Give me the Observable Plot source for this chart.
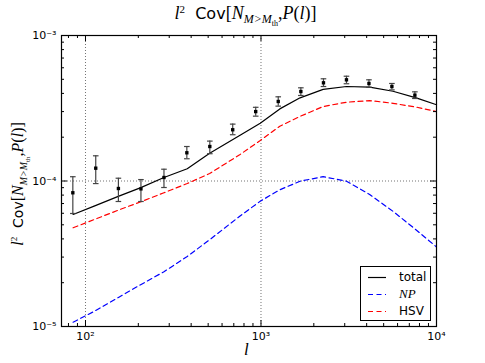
<!DOCTYPE html>
<html><head><meta charset="utf-8">
<script src="https://cdn.jsdelivr.net/npm/d3@7"></script>
<script src="https://cdn.jsdelivr.net/npm/@observablehq/plot@0.6"></script>
<style>
body{margin:0;background:#fff;font-family:"DejaVu Sans",sans-serif;color:#000;}
#wrap{position:relative;width:485px;height:363px;overflow:hidden;}
#wrap svg{position:absolute;left:0;top:0;}
.m{font-family:"Liberation Serif",serif;font-style:italic;}
.r{font-family:"Liberation Serif",serif;font-style:normal;}
.lab{position:absolute;white-space:nowrap;}
sub,sup{line-height:0;}
#legend{position:absolute;left:360px;top:266px;width:69px;height:53px;border:1px solid #000;background:#fff;font-size:12px;}
#legend .row{position:absolute;left:0;height:16px;line-height:16px;}
#legend svg{position:absolute;left:7px;top:7px;}
#legend .t{position:absolute;left:38px;top:0;}
</style></head><body>
<div id="wrap">
  <div class="lab" id="title" style="left:0;width:491px;text-align:center;top:3px;font-size:16px;">
    <span class="m" style="font-size:18px">l</span><sup class="r" style="font-size:11px">2</sup>&nbsp; Cov<span class="r" style="font-size:18px">[</span><span class="m" style="font-size:18px">N</span><sub class="m" style="font-size:12px">M&gt;M<sub class="r" style="font-size:8px">th</sub></sub><span class="r" style="font-size:18px">,</span><span class="m" style="font-size:18px">P</span><span class="r" style="font-size:18px">(</span><span class="m" style="font-size:18px">l</span><span class="r" style="font-size:18px">)]</span>
  </div>
  <div class="lab" id="ylab" style="left:18px;top:184px;font-size:14px;transform:translate(-50%,-50%) rotate(-90deg);">
    <span class="m" style="font-size:16px">l</span><sup class="r" style="font-size:9px">2</sup>&nbsp; Cov<span class="r" style="font-size:16px">[</span><span class="m" style="font-size:16px">N</span><sub class="m" style="font-size:10px">M&gt;M<sub class="r" style="font-size:7px">th</sub></sub><span class="r" style="font-size:16px">,</span><span class="m" style="font-size:16px">P</span><span class="r" style="font-size:16px">(</span><span class="m" style="font-size:16px">l</span><span class="r" style="font-size:16px">)]</span>
  </div>
  <div class="lab m" id="xlab" style="left:244px;top:340px;font-size:17px;">l</div>
  <div id="legend">
    <div class="row" style="top:2px;width:69px"><svg width="20" height="3"><line x1="0" x2="18" y1="1.5" y2="1.5" stroke="#000" stroke-width="1.2"/></svg><span class="t">total</span></div>
    <div class="row" style="top:19px;width:69px"><svg width="20" height="3"><line x1="0" x2="18" y1="1.5" y2="1.5" stroke="#0000ff" stroke-width="1.2" stroke-dasharray="5,3.5"/></svg><span class="t m" style="font-size:13px">NP</span></div>
    <div class="row" style="top:36px;width:69px"><svg width="20" height="3"><line x1="0" x2="18" y1="1.5" y2="1.5" stroke="#ff0000" stroke-width="1.2" stroke-dasharray="5,3.5"/></svg><span class="t">HSV</span></div>
  </div>
</div>
<script>
// multipole grid for the model curves
const ell   = [85, 112, 155, 205, 280, 380, 510, 760, 990, 1280, 1670, 2260, 3070, 4160, 5650, 7660, 10000];
const total = [5.89e-5, 6.72e-5, 7.87e-5, 8.97e-5, 1.057e-4, 1.213e-4, 1.552e-4, 2.065e-4, 2.494e-4, 3.13e-4, 3.73e-4, 4.26e-4, 4.46e-4, 4.42e-4, 4.14e-4, 3.73e-4, 3.34e-4];
const np    = [1.07e-5, 1.27e-5, 1.59e-5, 1.93e-5, 2.38e-5, 3.03e-5, 3.95e-5, 5.75e-5, 7.26e-5, 8.70e-5, 9.97e-5, 1.071e-4, 9.97e-5, 8.08e-5, 6.19e-5, 4.61e-5, 3.52e-5];
const hsv   = [4.77e-5, 5.43e-5, 6.33e-5, 7.17e-5, 8.30e-5, 9.61e-5, 1.126e-4, 1.521e-4, 1.898e-4, 2.38e-4, 2.78e-4, 3.25e-4, 3.48e-4, 3.57e-4, 3.42e-4, 3.22e-4, 3.00e-4];

// measured points with error bars
const dataL  = [84.7, 114.4, 154, 207, 280, 378, 511, 690, 933, 1254, 1687, 2270, 3069, 4122, 5570, 7530];
const dataV  = [8.30e-5, 1.225e-4, 8.88e-5, 8.83e-5, 1.057e-4, 1.563e-4, 1.726e-4, 2.25e-4, 3.0e-4, 3.52e-4, 4.12e-4, 4.73e-4, 4.96e-4, 4.68e-4, 4.46e-4, 3.89e-4];
const dataLo = [5.98e-5, 9.6e-5, 7.23e-5, 7.23e-5, 9.02e-5, 1.422e-4, 1.54e-4, 2.08e-4, 2.79e-4, 3.27e-4, 3.87e-4, 4.46e-4, 4.66e-4, 4.41e-4, 4.23e-4, 3.69e-4];
const dataHi = [1.07e-4, 1.49e-4, 1.045e-4, 1.023e-4, 1.205e-4, 1.726e-4, 1.88e-4, 2.46e-4, 3.21e-4, 3.79e-4, 4.37e-4, 5.04e-4, 5.25e-4, 4.96e-4, 4.68e-4, 4.10e-4];

// ticks
const xMajor = [100, 1000, 10000];
const xMajorLabels = ["10²", "10³", "10⁴"];
const xMinor = [80, 90, 200, 300, 400, 500, 600, 700, 800, 900, 2000, 3000, 4000, 5000, 6000, 7000, 8000, 9000];
const yMajor = [1e-5, 1e-4, 1e-3];
const yMajorLabels = ["10⁻⁵", "10⁻⁴", "10⁻³"];
const yMinor = [2e-5, 3e-5, 4e-5, 5e-5, 6e-5, 7e-5, 8e-5, 9e-5, 2e-4, 3e-4, 4e-4, 5e-4, 6e-4, 7e-4, 8e-4, 9e-4];
const xGrid = [100, 1000];
const yGrid = [1e-4];

const W = 485, H = 363, mL = 61, mR = 49, mT = 35, mB = 37;
const pw = W - mL - mR, ph = H - mT - mB;

const curves = ell.map((l, i) => ({l, total: total[i], np: np[i], hsv: hsv[i]}));
const pts = dataL.map((l, i) => ({l, v: dataV[i], lo: dataLo[i], hi: dataHi[i]}));
const xLab = new Map(xMajor.map((d, i) => [d, xMajorLabels[i]]));
const yLab = new Map(yMajor.map((d, i) => [d, yMajorLabels[i]]));

const capSymbol = {draw(ctx, size) { const w = Math.sqrt(size / Math.PI); ctx.moveTo(-w, 0); ctx.lineTo(w, 0); }};

const chart = Plot.plot({
  width: W, height: H,
  marginLeft: mL, marginRight: mR, marginTop: mT, marginBottom: mB,
  style: {fontFamily: "DejaVu Sans, sans-serif", fontSize: "11px", background: "transparent"},
  x: {type: "log", domain: [73, 10000], label: null},
  y: {type: "log", domain: [1e-5, 1e-3], label: null},
  marks: [
    Plot.ruleX(xGrid, {x: d => d, stroke: "#000", strokeOpacity: 0.55, strokeDasharray: "1,2"}),
    Plot.ruleY(yGrid, {y: d => d, stroke: "#000", strokeOpacity: 0.55, strokeDasharray: "1,2"}),
    Plot.line(curves, {x: "l", y: "hsv", stroke: "#ff0000", strokeWidth: 1.2, strokeDasharray: "5,3.5"}),
    Plot.line(curves, {x: "l", y: "np", stroke: "#0000ff", strokeWidth: 1.2, strokeDasharray: "5,3.5"}),
    Plot.line(curves, {x: "l", y: "total", stroke: "#000", strokeWidth: 1.2}),
    Plot.ruleX(pts, {x: "l", y1: "lo", y2: "hi", stroke: "#444", strokeWidth: 1.2}),
    Plot.dot(pts, {x: "l", y: "lo", symbol: capSymbol, r: 2.8, stroke: "#444", strokeWidth: 1.2, fill: "none"}),
    Plot.dot(pts, {x: "l", y: "hi", symbol: capSymbol, r: 2.8, stroke: "#444", strokeWidth: 1.2, fill: "none"}),
    Plot.dot(pts, {x: "l", y: "v", symbol: "square", r: 1.9, fill: "#000", stroke: "none"}),
    // inward ticks
    Plot.tickX(xMajor, {x: d => d, insetTop: ph - 6, stroke: "#000"}),
    Plot.tickX(xMajor, {x: d => d, insetBottom: ph - 6, stroke: "#000"}),
    Plot.tickX(xMinor, {x: d => d, insetTop: ph - 3, stroke: "#000"}),
    Plot.tickX(xMinor, {x: d => d, insetBottom: ph - 3, stroke: "#000"}),
    Plot.tickY(yMajor, {y: d => d, insetRight: pw - 6, stroke: "#000"}),
    Plot.tickY(yMajor, {y: d => d, insetLeft: pw - 6, stroke: "#000"}),
    Plot.tickY(yMinor, {y: d => d, insetRight: pw - 3, stroke: "#000"}),
    Plot.tickY(yMinor, {y: d => d, insetLeft: pw - 3, stroke: "#000"}),
    Plot.axisX(xMajor, {tickSize: 0, tickPadding: 6, tickFormat: d => xLab.get(d), fontSize: 11, label: null}),
    Plot.axisY(yMajor, {tickSize: 0, tickPadding: 5, tickFormat: d => yLab.get(d), fontSize: 11, label: null}),
    Plot.frame({stroke: "#000", strokeWidth: 1.2})
  ]
});
document.getElementById("wrap").prepend(chart);
</script>
</body></html>
